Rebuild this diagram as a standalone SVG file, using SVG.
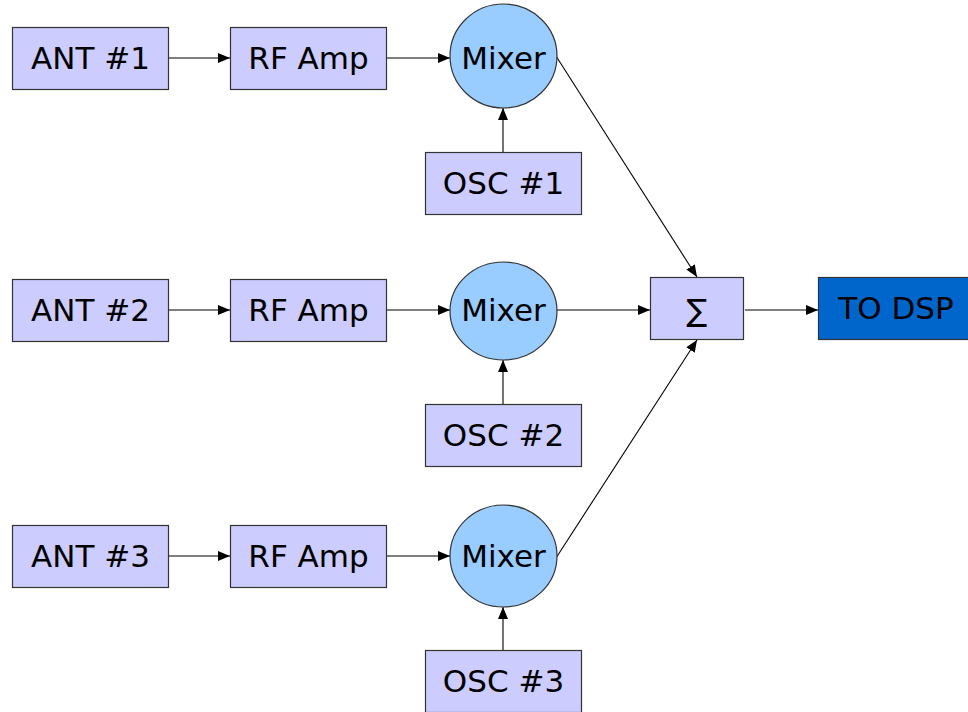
<svg xmlns="http://www.w3.org/2000/svg" width="968" height="712" viewBox="0 0 968 712">
  <style>
    .box { fill: #ccccff; stroke: #333333; stroke-width: 1.2; }
    .mix { fill: #99ccff; stroke: #333333; stroke-width: 1.2; }
    .dsp { fill: #0066cc; stroke: #333333; stroke-width: 1.2; }
    .lbl { font-family: "DejaVu Sans", sans-serif; font-size: 31px; fill: #000000; text-anchor: middle; }
    .wire { stroke: #000000; stroke-width: 1.1; fill: none; marker-end: url(#arrow); }
  </style>
  <defs>
    <marker id="arrow" viewBox="0 0 12 10" refX="12" refY="5" markerWidth="12" markerHeight="10" markerUnits="userSpaceOnUse" orient="auto">
      <path d="M0,0 L12,5 L0,10 Z" fill="#000000"/>
    </marker>
  </defs>

  <!-- connectors -->
  <g id="connectors">
    <line class="wire" x1="168" y1="58" x2="230" y2="58"/>
    <line class="wire" x1="387" y1="58" x2="450" y2="58"/>
    <line class="wire" x1="503" y1="152" x2="503" y2="108"/>
    <line class="wire" x1="556" y1="56" x2="697" y2="277"/>

    <line class="wire" x1="168" y1="310" x2="230" y2="310"/>
    <line class="wire" x1="387" y1="310" x2="450" y2="310"/>
    <line class="wire" x1="503" y1="404" x2="503" y2="360"/>
    <line class="wire" x1="557" y1="310" x2="650" y2="310"/>

    <line class="wire" x1="168" y1="556" x2="230" y2="556"/>
    <line class="wire" x1="387" y1="556" x2="450" y2="556"/>
    <line class="wire" x1="503" y1="650" x2="503" y2="607"/>
    <line class="wire" x1="556" y1="558" x2="697" y2="340"/>

    <line class="wire" x1="745" y1="310" x2="818" y2="310"/>
  </g>

  <!-- row 1 -->
  <g id="ant1"><rect class="box" x="12.5" y="27.5" width="156" height="62"/><text class="lbl" x="90.5" y="69">ANT #1</text></g>
  <g id="rfamp1"><rect class="box" x="230.5" y="27.5" width="156" height="62"/><text class="lbl" x="308.5" y="69">RF Amp</text></g>
  <g id="mixer1"><ellipse class="mix" cx="503.5" cy="56" rx="53.5" ry="52"/><text class="lbl" x="503.5" y="69">Mixer</text></g>
  <g id="osc1"><rect class="box" x="425.5" y="152.5" width="156" height="62"/><text class="lbl" x="503.5" y="194">OSC #1</text></g>

  <!-- row 2 -->
  <g id="ant2"><rect class="box" x="12.5" y="279.5" width="156" height="62"/><text class="lbl" x="90.5" y="321">ANT #2</text></g>
  <g id="rfamp2"><rect class="box" x="230.5" y="279.5" width="156" height="62"/><text class="lbl" x="308.5" y="321">RF Amp</text></g>
  <g id="mixer2"><ellipse class="mix" cx="503.5" cy="311" rx="53.5" ry="49"/><text class="lbl" x="503.5" y="321">Mixer</text></g>
  <g id="osc2"><rect class="box" x="425.5" y="404.5" width="156" height="62"/><text class="lbl" x="503.5" y="446">OSC #2</text></g>

  <!-- row 3 -->
  <g id="ant3"><rect class="box" x="12.5" y="525.5" width="156" height="62"/><text class="lbl" x="90.5" y="567">ANT #3</text></g>
  <g id="rfamp3"><rect class="box" x="230.5" y="525.5" width="156" height="62"/><text class="lbl" x="308.5" y="567">RF Amp</text></g>
  <g id="mixer3"><ellipse class="mix" cx="503.5" cy="556" rx="53.5" ry="51"/><text class="lbl" x="503.5" y="567">Mixer</text></g>
  <g id="osc3"><rect class="box" x="425.5" y="650.5" width="156" height="62"/><text class="lbl" x="503.5" y="692">OSC #3</text></g>

  <!-- summer and output -->
  <g id="sum"><rect class="box" x="650.5" y="277.5" width="93" height="62"/><text class="lbl" x="697" y="321">∑</text></g>
  <g id="todsp"><rect class="dsp" x="818.5" y="277.5" width="156" height="62"/><text class="lbl" x="896" y="319">TO DSP</text></g>
</svg>
